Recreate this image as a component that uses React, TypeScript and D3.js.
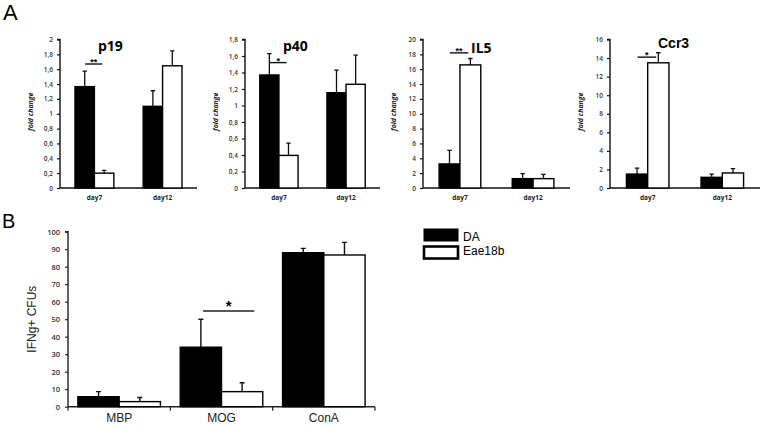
import React, { useEffect, useRef } from "react";
import * as d3 from "d3";

// panel A: qPCR fold change
const genes = ["p19", "p40", "IL5", "Ccr3"];
const days = ["day7", "day12"];
const strains = ["DA", "Eae18b"];
const geneMax = [2, 1.8, 20, 16];
const geneStep = [0.2, 0.2, 2, 2];
const daFold = [[1.365, 1.1], [1.37, 1.155], [3.24, 1.26], [1.5, 1.15]];
const daFoldErr = [[0.21, 0.21], [0.26, 0.275], [1.84, 0.67], [0.65, 0.35]];
const eaeFold = [[0.2, 1.646], [0.395, 1.257], [16.58, 1.26], [13.49, 1.62]];
const eaeFoldErr = [[0.037, 0.2], [0.15, 0.354], [0.86, 0.58], [1.08, 0.47]];
const geneSig = ["**", "*", "**", "*"];
const geneSigLevel = [1.67, 1.52, 18.2, 14.1];

// panel B: ELISPOT
const antigens = ["MBP", "MOG", "ConA"];
const daCfu = [5.7, 34, 88];
const daCfuErr = [2.9, 16, 2.5];
const eaeCfu = [2.9, 8.6, 86.7];
const eaeCfuErr = [2.4, 5.1, 7.2];
const cfuMax = 100;
const cfuStep = 10;
const cfuSigLevel = 54.7;

const fmtComma = (v: number) => d3.format("~g")(+v.toFixed(1)).replace(".", ",");

export default function App() {
  const svgRef = useRef<SVGSVGElement>(null);

  useEffect(() => {
    if (!svgRef.current) return;
    const width = 764;
    const height = 426;
    const svg = d3.select(svgRef.current);
    svg.selectAll("*").remove();
    svg.attr("width", width).attr("height", height).attr("viewBox", [0, 0, width, height]);

    svg.append("rect").attr("width", width).attr("height", height).attr("fill", "white");

    // panel letters
    svg.append("text").attr("x", 3).attr("y", 20)
      .style("font-family", "Liberation Sans, Arial").style("font-size", "22px").text("A");
    svg.append("text").attr("x", 2).attr("y", 228)
      .style("font-family", "Liberation Sans, Arial").style("font-size", "20px").text("B");

    // ---- panel A ----
    const panelLeft = [60, 245, 423, 610];
    const panelRight = [197, 380, 570, 760];
    const titleDx = [38, 38, 48, 48];
    const titleY = [50.5, 50.5, 52.5, 48];
    const aTop = 39.5;
    const aBottom = 188;

    genes.forEach((gene, gi) => {
      const g = svg.append("g");
      const y = d3.scaleLinear().domain([0, geneMax[gi]]).range([aBottom, aTop]);
      const x = d3.scaleBand<string>().domain(days)
        .range([panelLeft[gi], panelRight[gi]])
        .paddingInner(0.43).paddingOuter(0.22);
      const xs = d3.scaleBand<string>().domain(strains).range([0, x.bandwidth()]);

      const ticks = d3.range(0, geneMax[gi] + geneStep[gi] / 2, geneStep[gi]);
      const yAxis = d3.axisLeft(y).tickValues(ticks).tickSize(3).tickPadding(4)
        .tickFormat(d => fmtComma(+d));
      const ya = g.append("g").attr("transform", `translate(${panelLeft[gi]},0)`).call(yAxis);
      ya.select(".domain").attr("stroke", "#111").attr("stroke-width", 1.4).attr("d", `M-3,${aTop}H0V${aBottom}`);
      ya.selectAll(".tick line").attr("stroke", "#111").attr("stroke-width", 1.2);
      ya.selectAll(".tick text").attr("fill", "#333")
        .style("font-family", "Open Sans, sans-serif").style("font-size", "6.5px").style("font-weight", 600);

      const xAxis = d3.axisBottom(x).tickSize(0).tickPadding(7);
      const xa = g.append("g").attr("transform", `translate(0,${aBottom})`).call(xAxis);
      xa.select(".domain").attr("stroke", "#111").attr("stroke-width", 1.4)
        .attr("d", `M${panelLeft[gi]},0H${panelRight[gi]}`);
      xa.selectAll(".tick text").attr("fill", "#222")
        .style("font-family", "Open Sans, sans-serif").style("font-size", "6.5px").style("font-weight", 700);

      const rows = days.flatMap((d, di) => [
        { day: d, strain: strains[0], v: daFold[gi][di], e: daFoldErr[gi][di] },
        { day: d, strain: strains[1], v: eaeFold[gi][di], e: eaeFoldErr[gi][di] },
      ]);

      // error whiskers (upward)
      rows.forEach(r => {
        const cx = (x(r.day) ?? 0) + (xs(r.strain) ?? 0) + xs.bandwidth() / 2;
        g.append("path")
          .attr("d", `M${cx},${y(r.v)}V${y(r.v + r.e)}M${cx - 2.2},${y(r.v + r.e)}H${cx + 2.2}`)
          .attr("stroke", "#111").attr("stroke-width", 1.3).attr("fill", "none");
      });

      g.selectAll("rect.bar").data(rows).join("rect")
        .attr("class", "bar")
        .attr("x", r => (x(r.day) ?? 0) + (xs(r.strain) ?? 0))
        .attr("y", r => y(r.v))
        .attr("width", xs.bandwidth())
        .attr("height", r => aBottom - y(r.v))
        .attr("fill", r => (r.strain === "DA" ? "#000" : "#fff"))
        .attr("stroke", "#000").attr("stroke-width", 1.4);

      // significance
      const b0 = x(days[0]) ?? 0;
      const bw = x.bandwidth();
      const sy = y(geneSigLevel[gi]);
      g.append("line").attr("x1", b0 + bw * 0.26).attr("x2", b0 + bw * 0.7)
        .attr("y1", sy).attr("y2", sy).attr("stroke", "#111").attr("stroke-width", 1.4);
      g.append("text").attr("x", b0 + bw * 0.48).attr("y", sy + 1)
        .attr("text-anchor", "middle")
        .style("font-family", "Liberation Sans, Arial").style("font-size", "9px").style("font-weight", 700)
        .text(geneSig[gi]);

      // title
      g.append("text").attr("x", panelLeft[gi] + titleDx[gi]).attr("y", titleY[gi])
        .style("font-family", gi === 3 ? "Liberation Sans, Arial" : "Open Sans, sans-serif")
        .style("font-size", "14px").style("font-weight", 700)
        .text(gene);

      // y label
      g.append("text")
        .attr("transform", `translate(${panelLeft[gi] - 27},${(aTop + aBottom) / 2 - 2}) rotate(-90)`)
        .attr("text-anchor", "middle").attr("fill", "#222")
        .style("font-family", "Open Sans, sans-serif").style("font-size", "7px")
        .style("font-style", "italic").style("font-weight", 700)
        .text("fold change");
    });

    // ---- panel B ----
    const bLeft = 68;
    const bRight = 375;
    const bTop = 231.7;
    const bBottom = 406.7;
    const yb = d3.scaleLinear().domain([0, cfuMax]).range([bBottom, bTop]);
    const xb = d3.scaleBand<string>().domain(antigens).range([bLeft, bRight]);
    const xbs = d3.scaleBand<string>().domain(strains).range([0, xb.bandwidth()]).paddingOuter(0.24);

    const gb = svg.append("g");
    const yAxisB = d3.axisLeft(yb).tickValues(d3.range(0, cfuMax + 1, cfuStep)).tickSize(3).tickPadding(5);
    const yba = gb.append("g").attr("transform", `translate(${bLeft},0)`).call(yAxisB);
    yba.select(".domain").attr("stroke", "#222").attr("stroke-width", 1.4).attr("d", `M-3,${bTop}H0V${bBottom}`);
    yba.selectAll(".tick line").attr("stroke", "#222").attr("stroke-width", 1.2);
    yba.selectAll(".tick text").attr("fill", "#333")
      .style("font-family", "Open Sans, sans-serif").style("font-size", "7.5px").style("font-weight", 600);

    const xAxisB = d3.axisBottom(xb).tickSize(0).tickPadding(7);
    const xba = gb.append("g").attr("transform", `translate(0,${bBottom})`).call(xAxisB);
    xba.select(".domain").attr("stroke", "#222").attr("stroke-width", 1.4).attr("d", `M${bLeft},0H${bRight}`);
    xba.selectAll(".tick text").attr("fill", "#222")
      .style("font-family", "Liberation Sans, Arial").style("font-size", "12px");
    // boundary ticks
    gb.selectAll("line.bt").data(antigens.map(a => xb(a) ?? 0).concat([bRight])).join("line")
      .attr("class", "bt")
      .attr("x1", d => d).attr("x2", d => d)
      .attr("y1", bBottom).attr("y2", bBottom + 4)
      .attr("stroke", "#222").attr("stroke-width", 1.2);

    const bRows = antigens.flatMap((a, ai) => [
      { ag: a, strain: strains[0], v: daCfu[ai], e: daCfuErr[ai] },
      { ag: a, strain: strains[1], v: eaeCfu[ai], e: eaeCfuErr[ai] },
    ]);
    bRows.forEach(r => {
      const cx = (xb(r.ag) ?? 0) + (xbs(r.strain) ?? 0) + xbs.bandwidth() / 2;
      gb.append("path")
        .attr("d", `M${cx},${yb(r.v)}V${yb(r.v + r.e)}M${cx - 2.5},${yb(r.v + r.e)}H${cx + 2.5}`)
        .attr("stroke", "#111").attr("stroke-width", 1.4).attr("fill", "none");
    });
    gb.selectAll("rect.bar").data(bRows).join("rect")
      .attr("class", "bar")
      .attr("x", r => (xb(r.ag) ?? 0) + (xbs(r.strain) ?? 0))
      .attr("y", r => yb(r.v))
      .attr("width", xbs.bandwidth())
      .attr("height", r => bBottom - yb(r.v))
      .attr("fill", r => (r.strain === "DA" ? "#000" : "#fff"))
      .attr("stroke", "#000").attr("stroke-width", 1.4);

    const mog = xb("MOG") ?? 0;
    const mbw = xb.bandwidth();
    const msy = yb(cfuSigLevel);
    gb.append("line").attr("x1", mog + mbw * 0.32).attr("x2", mog + mbw * 0.82)
      .attr("y1", msy).attr("y2", msy).attr("stroke", "#222").attr("stroke-width", 1.3);
    gb.append("text").attr("x", mog + mbw * 0.57).attr("y", msy + 0.5).attr("text-anchor", "middle")
      .style("font-family", "Liberation Sans, Arial").style("font-size", "15px").style("font-weight", 700)
      .text("*");

    gb.append("text")
      .attr("transform", `translate(36,${(bTop + bBottom) / 2}) rotate(-90)`)
      .attr("text-anchor", "middle").attr("fill", "#222")
      .style("font-family", "Liberation Sans, Arial").style("font-size", "12px")
      .text("IFNg+ CFUs");

    // legend
    const legend = svg.append("g").attr("transform", "translate(423,228)");
    strains.forEach((s, i) => {
      legend.append("rect")
        .attr("x", 1).attr("y", i * 17.5 + 1)
        .attr("width", 34).attr("height", 12)
        .attr("fill", i === 0 ? "#000" : "#fff")
        .attr("stroke", "#000").attr("stroke-width", i === 0 ? 1 : 2.6);
      legend.append("text").attr("x", 40).attr("y", i * 14 + 12.5)
        .style("font-family", "Liberation Sans, Arial").style("font-size", "12px")
        .text(s);
    });
  }, []);

  return (
    <div style={{ position: "absolute", left: 0, top: 0 }}>
      <svg ref={svgRef} style={{ display: "block" }}></svg>
    </div>
  );
}
